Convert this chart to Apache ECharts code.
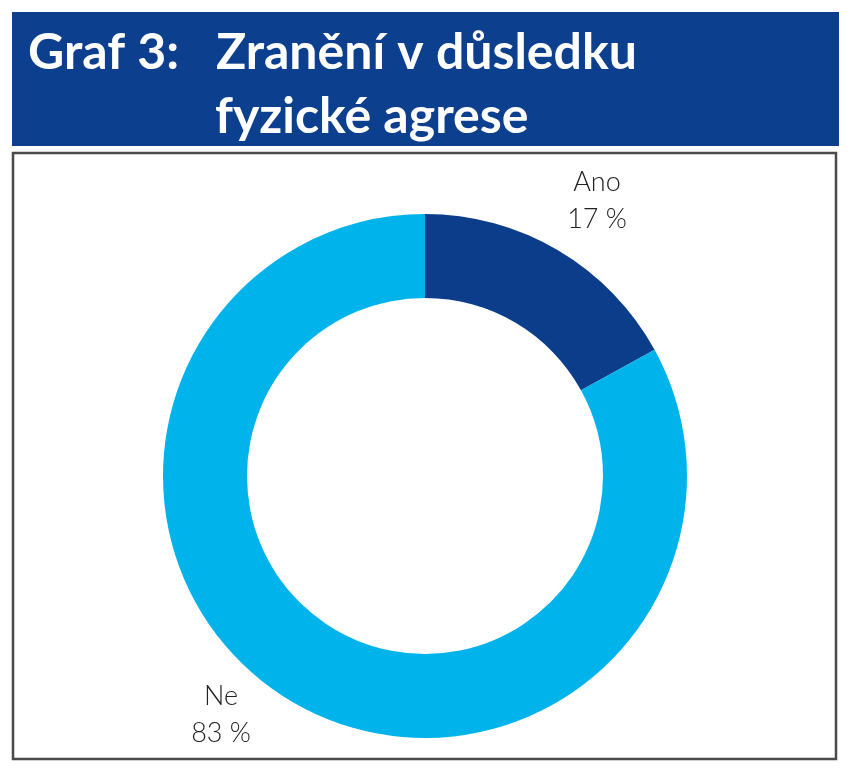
<!DOCTYPE html>
<html>
<head>
<meta charset="utf-8">
<script src="https://cdn.jsdelivr.net/npm/echarts@6/dist/echarts.min.js"></script>
<style>
html,body{margin:0;padding:0;background:#fff;}
#chart{width:850px;height:772px;}
</style>
</head>
<body>
<div id="chart"></div>
<script>
var titlePrefix = 'Graf 3:';
var titleLines = ['Zranění v důsledku', 'fyzické agrese'];
var categories = ['Ano', 'Ne'];
var values = [17, 83];
var colors = ['#0b3d8b', '#00b3ea'];
var labelPos = [[597, 201], [221, 715]];

var chart = echarts.init(document.getElementById('chart'), null, {renderer: 'canvas'});
var option = {
  backgroundColor: '#ffffff',
  animation: false,
  graphic: [
    {type: 'rect', shape: {x: 12, y: 12, width: 827, height: 134}, style: {fill: '#0c3f8d'}, z: 1},
    {type: 'rect', shape: {x: 13, y: 153, width: 823, height: 606}, style: {fill: 'none', stroke: '#4a4a4a', lineWidth: 2.5}, z: 1},
    {type: 'text', left: 28, top: 28, z: 2, style: {text: titlePrefix, fill: '#ffffff', font: 'bold 50px Lato'}},
    {type: 'text', left: 216, top: 28, z: 2, style: {text: titleLines[0], fill: '#ffffff', font: 'bold 50px Lato'}},
    {type: 'text', left: 215, top: 92, z: 2, style: {text: titleLines[1], fill: '#ffffff', font: 'bold 50px Lato'}}
  ],
  series: [{
    type: 'pie',
    center: [425, 476],
    radius: [178, 262],
    startAngle: 90,
    clockwise: true,
    silent: true,
    emphasis: {disabled: true},
    labelLine: {show: false},
    label: {
      show: true,
      formatter: '{b}\n{c} %',
      fontFamily: 'Lato',
      fontWeight: 300,
      fontSize: 27,
      lineHeight: 37,
      color: '#222222',
      align: 'center'
    },
    labelLayout: function (params) {
      var p = labelPos[params.dataIndex];
      return {x: p[0], y: p[1], align: 'center', verticalAlign: 'middle'};
    },
    data: categories.map(function (c, i) {
      return {name: c, value: values[i], itemStyle: {color: colors[i]}};
    })
  }]
};
chart.setOption(option);
</script>
</body>
</html>
